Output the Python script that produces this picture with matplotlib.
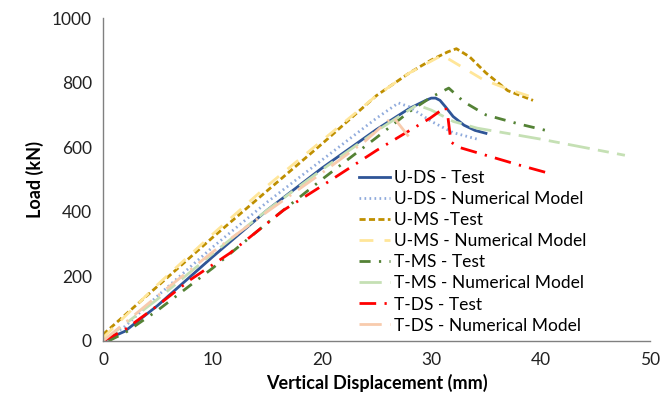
import matplotlib
matplotlib.use("Agg")
import matplotlib.pyplot as plt

plt.rcParams['font.family'] = ['Lato', 'DejaVu Sans']

uds_test_x = [0, 2, 5, 10, 15, 20, 25, 28, 29.5, 30.0, 30.4, 30.8, 31.3, 32, 33, 34, 35]
uds_test_y = [0, 30, 110, 260, 405, 535, 655, 720, 745, 752, 752, 745, 725, 695, 668, 652, 643]

uds_num_x = [0, 2, 5, 10, 15, 20, 25, 27, 28, 30, 32, 34.2]
uds_num_y = [0, 45, 140, 290, 430, 560, 690, 737, 725, 680, 645, 625]

ums_test_x = [0, 2, 5, 10, 15, 20, 25, 28, 30, 31.5, 32.3, 33.5, 35, 37, 39.3]
ums_test_y = [20, 80, 170, 320, 465, 610, 760, 830, 870, 895, 905, 880, 830, 775, 745]

ums_num_x = [0, 5, 10, 15, 20, 25, 28, 31, 34.7, 37, 39.5]
ums_num_y = [10, 175, 330, 480, 620, 760, 830, 885, 810, 780, 752]

tms_test_x = [0.5, 2, 5, 10, 15, 20, 25, 28, 30, 31.6, 33, 35, 38, 41.1]
tms_test_y = [0, 25, 95, 225, 365, 500, 630, 710, 755, 783, 740, 700, 672, 647]

tms_num_x = [0, 5, 10, 15, 20, 25, 28.7, 30, 32, 34.2, 40, 47.7]
tms_num_y = [0, 130, 270, 405, 530, 650, 731, 715, 680, 659, 625, 575]

tds_test_x = [0, 2, 5, 8, 11.6, 16.5, 20, 25, 29.9, 31.3, 31.5, 31.8, 32.5, 35, 38, 41]
tds_test_y = [0, 35, 110, 190, 272, 405, 480, 590, 690, 724, 700, 616, 600, 575, 545, 517]

tds_num_x = [0, 5, 10, 15, 20, 24, 26.5, 28]
tds_num_y = [0, 140, 275, 400, 520, 620, 695, 630]

labels = ["U-DS - Test", "U-DS - Numerical Model", "U-MS -Test", "U-MS - Numerical Model",
          "T-MS - Test", "T-MS - Numerical Model", "T-DS - Test", "T-DS - Numerical Model"]

fig = plt.figure(figsize=(6.62, 4.04), dpi=100)
ax = fig.add_axes([0.1556, 0.156, 0.982 - 0.1556, 0.9554 - 0.156])

lw = 2.0
ax.plot(uds_test_x, uds_test_y, color='#2F5597', lw=lw, ls='-', label=labels[0])
ax.plot(uds_num_x, uds_num_y, color='#8FAADC', lw=lw, ls=(0, (0.6, 1.2)), label=labels[1])
ax.plot(ums_test_x, ums_test_y, color='#BF8F00', lw=lw, ls=(0, (2.2, 1.2)), label=labels[2])
ax.plot(ums_num_x, ums_num_y, color='#FFE699', lw=lw, ls=(0, (5, 4)), label=labels[3])
ax.plot(tms_test_x, tms_test_y, color='#548235', lw=lw, ls=(0, (4, 3, 0.8, 3)), label=labels[4])
ax.plot(tms_num_x, tms_num_y, color='#C5E0B4', lw=lw, ls=(0, (8, 3, 4, 3)), label=labels[5])
ax.plot(tds_test_x, tds_test_y, color='#FF0000', lw=lw, ls=(0, (6, 3, 0.8, 3)), label=labels[6])
ax.plot(tds_num_x, tds_num_y, color='#F8CBAD', lw=lw, ls=(0, (8, 3, 0.8, 3)), label=labels[7])

ax.set_xlim(0, 50)
ax.set_ylim(0, 1000)
ax.set_xticks([0, 10, 20, 30, 40, 50])
ax.set_yticks([0, 200, 400, 600, 800, 1000])
for s in ['top', 'right']:
    ax.spines[s].set_visible(False)
for s in ['left', 'bottom']:
    ax.spines[s].set_color('#808080')
    ax.spines[s].set_linewidth(1.0)
ax.tick_params(length=0, labelsize=12.5, colors='#222222', pad=8)

ax.set_xlabel("Vertical Displacement (mm)", fontsize=13, fontweight='bold', labelpad=4)
ax.set_ylabel("Load (kN)", fontsize=13, fontweight='bold', labelpad=6)

ax.legend(loc='upper left', bbox_to_anchor=(0.455, 0.55), frameon=False, fontsize=12.5,
          handlelength=1.8, handletextpad=0.2, labelspacing=0.29, borderaxespad=0)

fig.savefig("out.png", dpi=100)
